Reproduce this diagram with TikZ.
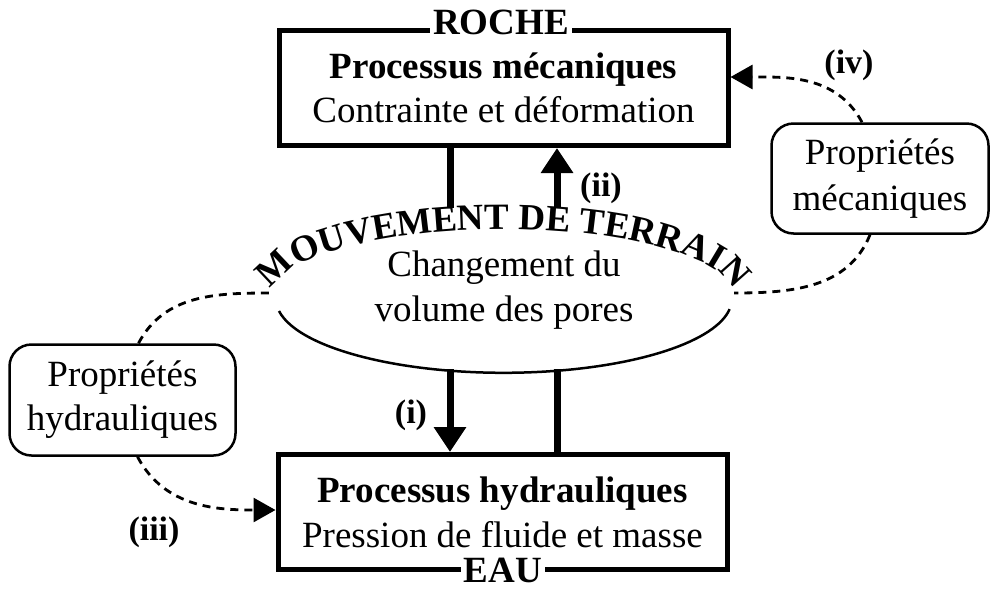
\documentclass[tikz,border=0pt]{standalone}
\usepackage{fontspec}
\setmainfont{Liberation Serif}
\usetikzlibrary{arrows.meta,decorations.text,calc,shapes.geometric}
\newcommand{\bigtxt}{\fontsize{37}{38}\selectfont}
\newcommand{\lbltxt}{\fontsize{34}{35}\selectfont\bfseries}
\begin{document}
\begin{tikzpicture}[x=1pt,y=1pt,
  procbox/.style={draw, line width=5pt, minimum width=449pt, minimum height=115pt, align=center, font=\bigtxt, inner sep=0pt},
  propbox/.style={draw, line width=2.5pt, rounded corners=22pt, align=center, font=\bigtxt, inner sep=0pt},
  tagtxt/.style={fill=white, inner xsep=3pt, inner ysep=0pt, font=\fontsize{37}{37}\selectfont\bfseries},
  lbl/.style={font=\lbltxt, inner sep=0pt},
  bigarrow/.style={line width=7pt, -{Triangle[length=25pt,width=31pt]}},
  bigline/.style={line width=7pt},
  dashconn/.style={line width=2.8pt, dash pattern=on 8pt off 6pt},
  dasharrow/.style={dashconn, -{Triangle[length=22pt,width=24pt]}}
]
\useasboundingbox (0,0) rectangle (993,-590);

% main boxes
\node[procbox] (tbox) at (503.5,-88) {\textbf{Processus mécaniques}\\[6pt]Contrainte et déformation};
\node[procbox] (bbox) at (502.5,-512) {\textbf{Processus hydrauliques}\\[7pt]Pression de fluide et masse};
\node[tagtxt] (roche) at (501,-22) {ROCHE};
\node[tagtxt] (eau) at (503,-570) {EAU};

% ellipse
\node[ellipse, minimum width=456pt, minimum height=148pt, inner sep=0pt] (ell) at (505,-299) {};
\draw[line width=2.5pt] ($(ell.center)+(-226,-12)$) arc[start angle=189.5, end angle=352, x radius=228, y radius=74];
\path[decorate, decoration={text along path, text align=center, raise=0pt,
  text={|\fontsize{37}{37}\selectfont\bfseries|MOUVEMENT DE TERRAIN}}]
  ($(ell.center)+(-233,2)$) arc[start angle=180, end angle=0, x radius=231, y radius=68];
\node[align=center, font=\fontsize{37}{45}\selectfont, inner sep=0pt] (elltxt) at (504,-290) {Changement du\\volume des pores};

% side boxes
\node[propbox, minimum width=226pt, minimum height=111pt] (hyd) at (122.5,-400) {Propriétés\\[6pt]hydrauliques};
\node[propbox, minimum width=217pt, minimum height=110pt] (mec) at (880,-178.5) {Propriétés\\[8pt]mécaniques};

% vertical connectors
\coordinate (tl) at (450,-208);
\coordinate (tr) at (557,-208);
\draw[bigline] (tl) -- (tl |- tbox.south);
\draw[bigarrow] (tr) -- (tr |- tbox.south);
\coordinate (bl) at (450,-369);
\coordinate (br) at (557,-369);
\draw[bigarrow] (bl) -- (bl |- bbox.north);
\draw[bigline] (br) -- (br |- bbox.north);

% dashed connectors
\coordinate (ellL) at (272,-293);
\coordinate (ellR) at (734,-293);
\draw[dashconn] ([xshift=16pt]hyd.north) to[out=62,in=180] (ellL);
\draw[dasharrow] ([xshift=15pt]hyd.south) to[out=-62,in=180] ([yshift=2pt]bbox.west);
\draw[dasharrow] ([xshift=-18pt]mec.north) to[out=118,in=0] ([yshift=11pt]tbox.east);
\draw[dashconn] ([xshift=-10pt]mec.south) to[out=-112,in=0] (ellR);

% labels
\node[lbl] (lii) at (601,-188) {(ii)};
\node[lbl] (li) at (411,-415) {(i)};
\node[lbl] (liii) at (154,-532) {(iii)};
\node[lbl] (liv) at (849,-65) {(iv)};
\end{tikzpicture}
\end{document}
